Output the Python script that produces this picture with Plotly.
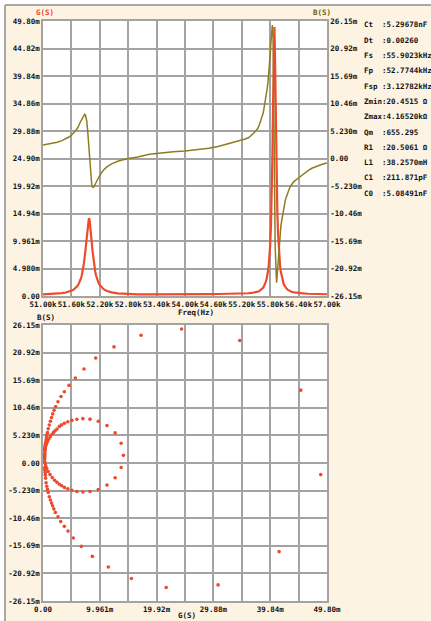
import plotly.graph_objects as go

# Sweep results: frequency (Hz), conductance G (mS), susceptance B (mS)
freq_hz = [
    51000, 51100, 51200, 51300, 51400, 51480, 51550, 51610, 51660, 51700,
    51730, 51750, 51770, 51790, 51805, 51820, 51835, 51850, 51865, 51880,
    51895, 51910, 51925, 51940, 51955, 51970, 51985, 52000, 52015, 52030,
    52045, 52060, 52075, 52090, 52105, 52120, 52135, 52150, 52170, 52195,
    52230, 52280, 52350, 52450, 52580, 52750, 53000, 53250, 53500, 53750,
    54000, 54250, 54500, 54700, 54850, 55000, 55100, 55200, 55270, 55340,
    55400, 55450, 55500, 55540, 55575, 55605, 55630, 55650, 55665, 55680,
    55695, 55710, 55725, 55740, 55755, 55770, 55785, 55800, 55815, 55830,
    55845, 55860, 55875, 55890, 55905, 55920, 55935, 55950, 55965, 55980,
    55995, 56010, 56025, 56040, 56055, 56070, 56085, 56100, 56115, 56130,
    56150, 56175, 56210, 56250, 56300, 56390, 56500, 56600, 56680, 56800,
    56900, 57000,
]
g_ms = [
    0.31, 0.34, 0.38, 0.44, 0.52, 0.63, 0.78, 0.98, 1.24, 1.54,
    1.85, 2.12, 2.45, 2.88, 3.28, 3.76, 4.35, 5.06, 5.94, 6.99,
    8.25, 9.69, 11.22, 12.65, 13.71, 14.10, 13.71, 12.65, 11.22, 9.69,
    8.25, 6.99, 5.94, 5.06, 4.35, 3.76, 3.28, 2.88, 2.45, 2.04,
    1.63, 1.24, 0.91, 0.65, 0.48, 0.37, 0.30, 0.28, 0.27, 0.27,
    0.28, 0.30, 0.33, 0.36, 0.37, 0.38, 0.40, 0.43, 0.46, 0.50,
    0.55, 0.60, 0.68, 0.78, 0.92, 1.10, 1.30, 1.50, 1.70, 1.95,
    2.22, 2.63, 3.16, 3.74, 4.56, 5.67, 7.19, 9.24, 12.45, 17.20,
    24.30, 34.50, 45.20, 48.70, 41.40, 30.70, 21.60, 15.50, 11.45, 8.65,
    6.72, 5.32, 4.38, 3.74, 3.10, 2.63, 2.16, 1.90, 1.68, 1.50,
    1.30, 1.10, 0.92, 0.78, 0.66, 0.54, 0.46, 0.41, 0.38, 0.35,
    0.33, 0.32,
]
b_ms = [
    2.55, 2.70, 2.87, 3.10, 3.40, 3.72, 4.09, 4.51, 4.95, 5.41,
    5.80, 6.10, 6.42, 6.94, 7.22, 7.52, 7.81, 8.08, 8.29, 8.40,
    8.31, 7.92, 7.09, 5.70, 3.75, 1.45, -0.85, -2.80, -4.19, -5.02,
    -5.41, -5.50, -5.39, -5.18, -4.91, -4.62, -4.32, -4.04, -3.66, -3.26,
    -2.77, -2.20, -1.60, -1.02, -0.52, -0.10, 0.27, 0.80, 1.08, 1.30,
    1.45, 1.65, 1.95, 2.30, 2.65, 3.00, 3.25, 3.50, 3.70, 3.95,
    4.35, 4.80, 5.30, 5.75, 6.50, 7.20, 7.90, 8.60, 9.30, 10.00,
    10.70, 11.60, 12.60, 13.50, 14.70, 16.10, 17.80, 19.90, 22.00, 24.20,
    25.40, 23.20, 13.80, -2.20, -16.80, -23.10, -23.60, -21.90, -19.70, -17.70,
    -15.80, -14.20, -12.90, -12.00, -11.10, -10.20, -9.36, -8.70, -8.10, -7.60,
    -7.00, -6.40, -5.60, -5.00, -4.40, -3.75, -2.90, -2.30, -1.86, -1.40,
    -1.10, -0.85,
]

# Axis tick values and their printed labels
freq_ticks = [51000, 51600, 52200, 52800, 53400, 54000, 54600, 55200, 55800, 56400, 57000]
freq_labels = ["51.00k", "51.60k", "52.20k", "52.80k", "53.40k", "54.00k",
               "54.60k", "55.20k", "55.80k", "56.40k", "57.00k"]
g_ticks = [0, 4.98, 9.961, 14.94, 19.92, 24.90, 29.88, 34.86, 39.84, 44.82, 49.80]
g_labels = ["0.00", "4.980m", "9.961m", "14.94m", "19.92m", "24.90m",
            "29.88m", "34.86m", "39.84m", "44.82m", "49.80m"]
g_bottom_labels = ["0.00", "", "9.961m", "", "19.92m", "", "29.88m", "", "39.84m", "", "49.80m"]
b_ticks = [-26.15, -20.92, -15.69, -10.46, -5.23, 0, 5.23, 10.46, 15.69, 20.92, 26.15]
b_labels = ["-26.15m", "-20.92m", "-15.69m", "-10.46m", "-5.230m", "0.00",
            "5.230m", "10.46m", "15.69m", "20.92m", "26.15m"]

# Equivalent-circuit readout
param_names = ["Ct", "Dt", "Fs", "Fp", "Fsp", "Zmin", "Zmax", "Qm", "R1", "L1", "C1", "C0"]
param_values = ["5.29678nF", "0.00260", "55.9023kHz", "52.7744kHz", "3.12782kHz",
                "20.4515 \u03a9", "4.16520k\u03a9", "655.295", "20.5061 \u03a9",
                "38.2570mH", "211.871pF", "5.08491nF"]

W, H = 431, 621
RED = "#ee4a2b"
OLIVE = "#8f7c22"
GRID = "#a3a3a3"
CREAM = "#fdf3e3"
MONO = "DejaVu Sans Mono"
tick_font = dict(family=MONO, size=7.5, color="#111111", weight="bold")


def px_x(px):
    return px / W


def px_y(py):
    return 1 - py / H


fig = go.Figure()

fig.add_trace(go.Scatter(x=freq_hz, y=g_ms, mode="lines", xaxis="x", yaxis="y",
                         line=dict(color=RED, width=2.2), showlegend=False))
fig.add_trace(go.Scatter(x=freq_hz, y=b_ms, mode="lines", xaxis="x", yaxis="y2",
                         line=dict(color=OLIVE, width=1.5), showlegend=False))
fig.add_trace(go.Scatter(x=g_ms, y=b_ms, mode="markers", xaxis="x2", yaxis="y3",
                         marker=dict(color=RED, size=3.6, line=dict(width=0)),
                         showlegend=False))

axis_common = dict(showgrid=True, gridcolor=GRID, gridwidth=1.5, showline=True,
                   linecolor=GRID, linewidth=1.5, mirror=True, zeroline=False,
                   ticks="", tickfont=tick_font, tickangle=0, fixedrange=True,
                   automargin=False)

top_x_dom = [px_x(43), px_x(327)]
top_y_dom = [px_y(296), px_y(21)]
bot_y_dom = [px_y(601), px_y(325)]

fig.update_layout(
    width=W, height=H,
    margin=dict(l=0, r=0, t=0, b=0, autoexpand=False),
    paper_bgcolor=CREAM, plot_bgcolor="white",
    xaxis=dict(axis_common, domain=top_x_dom, anchor="y", range=[51000, 57000],
               tickmode="array", tickvals=freq_ticks, ticktext=freq_labels),
    yaxis=dict(axis_common, domain=top_y_dom, anchor="x", range=[0, 49.80],
               tickmode="array", tickvals=g_ticks, ticktext=g_labels),
    yaxis2=dict(axis_common, overlaying="y", side="right", anchor="x",
                range=[-26.15, 26.15], showgrid=False,
                tickmode="array", tickvals=b_ticks, ticktext=b_labels),
    xaxis2=dict(axis_common, domain=top_x_dom, anchor="y3", range=[0, 49.80],
                tickmode="array", tickvals=g_ticks, ticktext=g_bottom_labels),
    yaxis3=dict(axis_common, domain=bot_y_dom, anchor="x2", range=[-26.15, 26.15],
                tickmode="array", tickvals=b_ticks, ticktext=b_labels),
)

# Window frame: white outer strip and grey border line
fig.add_shape(type="rect", xref="paper", yref="paper", x0=0, x1=px_x(4), y0=0, y1=1,
              fillcolor="white", line=dict(width=0), layer="below")
fig.add_shape(type="rect", xref="paper", yref="paper", x0=0, x1=1, y0=px_y(4), y1=1,
              fillcolor="white", line=dict(width=0), layer="below")
fig.add_shape(type="line", xref="paper", yref="paper", x0=px_x(5), x1=px_x(5),
              y0=0, y1=px_y(5), line=dict(color="#a8a8a8", width=2))
fig.add_shape(type="line", xref="paper", yref="paper", x0=px_x(5), x1=1,
              y0=px_y(5), y1=px_y(5), line=dict(color="#a8a8a8", width=2))

label_font = dict(family=MONO, size=7.5, weight="bold")


def label(text, x, y, color="#111111", xanchor="center"):
    fig.add_annotation(text=text, x=px_x(x), y=px_y(y), xref="paper", yref="paper",
                       showarrow=False, xanchor=xanchor, yanchor="middle",
                       font=dict(label_font, color=color))


label("G(S)", 45, 13, color=RED)
label("B(S)", 322, 13, color="#6e5e14")
label("Freq(Hz)", 196, 312)
label("B(S)", 46, 317)
label("G(S)", 187, 615)

for i, (name, val) in enumerate(zip(param_names, param_values)):
    label(f"{name:<4}:{val}", 362, 25 + i * 15.3, xanchor="left")

fig.write_html("out.html")
